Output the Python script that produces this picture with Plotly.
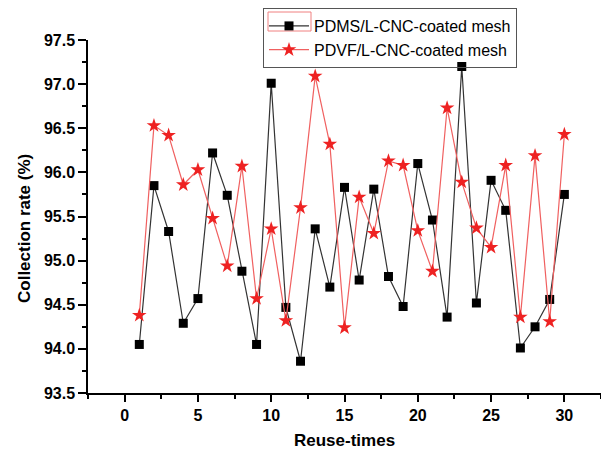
import plotly.graph_objects as go

reuse_times = list(range(1, 31))
pdms_rate = [94.05, 95.85, 95.33, 94.29, 94.57, 96.22, 95.74, 94.88, 94.05, 97.01,
             94.47, 93.86, 95.36, 94.70, 95.83, 94.78, 95.81, 94.82, 94.48, 96.10,
             95.46, 94.36, 97.20, 94.52, 95.91, 95.57, 94.01, 94.25, 94.56, 95.75]
pvdf_rate = [94.38, 96.53, 96.42, 95.86, 96.03, 95.48, 94.94, 96.07, 94.57, 95.36,
             94.32, 95.60, 97.09, 96.32, 94.24, 95.72, 95.31, 96.13, 96.08, 95.34,
             94.88, 96.73, 95.89, 95.37, 95.15, 96.08, 94.36, 96.19, 94.31, 96.43]
series_names = ["PDMS/L-CNC-coated mesh", "PDVF/L-CNC-coated mesh"]
x_ticks = [0, 5, 10, 15, 20, 25, 30]
y_ticks = [93.5, 94.0, 94.5, 95.0, 95.5, 96.0, 96.5, 97.0, 97.5]

FONT = "Liberation Sans, Arial, sans-serif"
W, H = 601, 449
L, R, T, B = 88, 0, 40, 56
PW, PH = W - L - R, H - T - B


def px_x(p):
    return (p - L) / PW


def px_y(p):
    return (H - B - p) / PH


fig = go.Figure()
fig.add_trace(go.Scatter(
    x=reuse_times, y=pdms_rate, name=series_names[0], mode="lines+markers",
    line=dict(color="#333333", width=1.2),
    marker=dict(symbol="square", size=9, color="black"),
))
fig.add_trace(go.Scatter(
    x=reuse_times, y=pvdf_rate, name=series_names[1], mode="lines+markers",
    line=dict(color="#f06060", width=1.2),
    marker=dict(symbol="star", size=11, color="#ee2222", line=dict(width=0)),
))

fig.update_layout(
    width=W, height=H,
    margin=dict(l=L, r=R, t=T, b=B, autoexpand=False),
    paper_bgcolor="white", plot_bgcolor="white",
    font=dict(family=FONT, color="black"),
    showlegend=True,
    legend=dict(
        x=px_x(263), y=px_y(8), xanchor="left", yanchor="top",
        bordercolor="#555555", borderwidth=1, bgcolor="rgba(255,255,255,0)",
        font=dict(size=16, family=FONT, color="black"),
        tracegroupgap=0, itemwidth=40,
    ),
    shapes=[
        dict(type="rect", xref="paper", yref="paper", layer="above",
             x0=px_x(268), x1=px_x(311), y0=px_y(31), y1=px_y(12),
             line=dict(color="#f08080", width=1), fillcolor="rgba(0,0,0,0)"),
    ],
    xaxis=dict(
        range=[-2.5, 32.5], tickvals=x_ticks, ticks="outside", ticklen=7,
        tickwidth=1.5, tickcolor="black", showline=True, linecolor="black",
        linewidth=1.5, showgrid=False, zeroline=False,
        tickfont=dict(size=16, family=FONT, color="black", weight="bold"),
        minor=dict(dtick=2.5, ticks="outside", ticklen=4, tickwidth=1.5, tickcolor="black", showgrid=False),
    ),
    yaxis=dict(
        range=[93.5, 97.5], tickvals=y_ticks, ticktext=[f"{v:.1f}" for v in y_ticks],
        ticks="outside", ticklen=8,
        tickwidth=1.5, tickcolor="black", showline=True, linecolor="black",
        linewidth=1.5, showgrid=False, zeroline=False,
        tickfont=dict(size=16, family=FONT, color="black", weight="bold"),
        minor=dict(dtick=0.25, ticks="outside", ticklen=4, tickwidth=1.5, tickcolor="black", showgrid=False),
    ),
    annotations=[
        dict(text="<b>Collection rate (%)</b>", textangle=-90, xref="paper", yref="paper",
             x=px_x(24), y=px_y(229), xanchor="center", yanchor="middle",
             showarrow=False, font=dict(size=17, family=FONT, color="black")),
        dict(text="<b>Reuse-times</b>", xref="paper", yref="paper",
             x=0.5, y=px_y(440), xanchor="center", yanchor="middle",
             showarrow=False, font=dict(size=17, family=FONT, color="black")),
    ],
)

fig.write_html("out.html", config={"displayModeBar": False},
               post_script="document.body.style.margin='0';document.body.style.padding='0';")
